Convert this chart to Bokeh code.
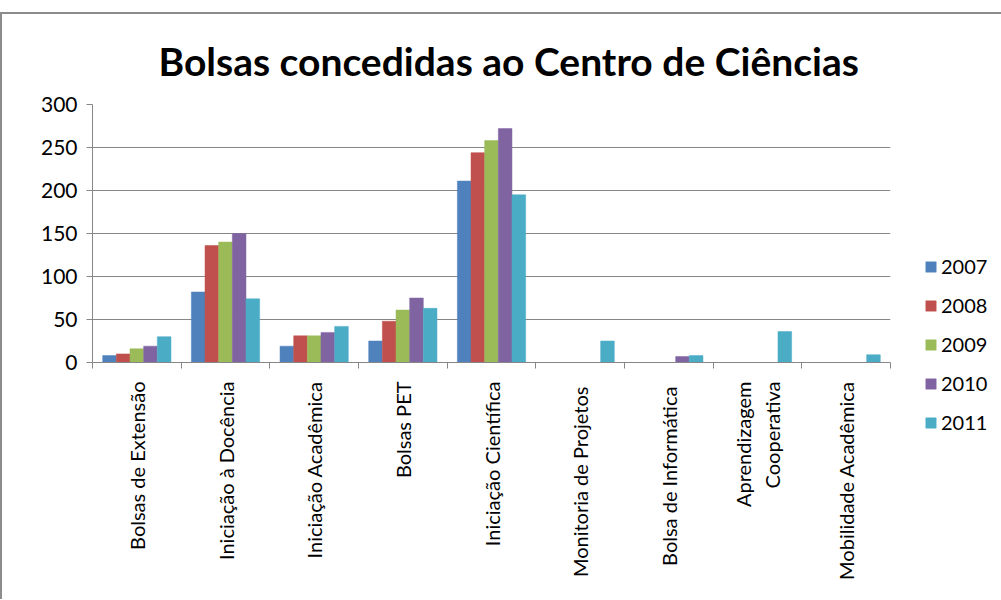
import math
from bokeh.plotting import figure
from bokeh.models import Range1d, LinearAxis, FixedTicker, Legend, LegendItem, ColumnDataSource
from bokeh.embed import file_html
from bokeh.resources import INLINE

categories = ["Bolsas de Extensão", "Iniciação à Docência", "Iniciação Acadêmica", "Bolsas PET",
              "Iniciação Científica", "Monitoria de  Projetos", "Bolsa de  Informática",
              "Aprendizagem\nCooperativa", "Mobilidade Acadêmica"]
years = ["2007", "2008", "2009", "2010", "2011"]
v2007 = [8, 82, 19, 25, 211, 0, 0, 0, 0]
v2008 = [10, 136, 31, 48, 244, 0, 0, 0, 0]
v2009 = [16, 140, 31, 61, 258, 0, 0, 0, 0]
v2010 = [19, 150, 35, 75, 272, 0, 7, 0, 0]
v2011 = [30, 74, 42, 63, 195, 25, 8, 36, 9]
colors = ["#4F81BD", "#C0504D", "#9BBB59", "#8064A2", "#4BACC6"]
y_ticks = [0, 50, 100, 150, 200, 250, 300]

series = dict(zip(years, [v2007, v2008, v2009, v2010, v2011]))
n = len(categories)
centers = [i + 0.5 for i in range(n)]
edges = list(range(n + 1))

FONT = "Lato"
p = figure(frame_width=798, frame_height=258, x_range=Range1d(0, n), y_range=Range1d(0, 300),
           output_backend="svg", toolbar_location=None,
           min_border_left=90, min_border_right=111, min_border_top=80, min_border_bottom=237,
           x_axis_location=None, title="Bolsas concedidas ao Centro de Ciências")
p.margin = (12, 0, 0, 0)
p.styles = {"border-top": "2px solid #8c8c8c", "border-left": "2px solid #8c8c8c"}

p.title.text_font = FONT
p.title.text_font_size = "39px"
p.title.text_font_style = "bold"
p.title.align = "left"
p.title.offset = 66
p.title.standoff = 42
p.title.text_color = "#000000"

p.outline_line_color = None
p.background_fill_color = "white"
p.border_fill_color = "white"

# y axis
yax = p.yaxis[0]
yax.ticker = FixedTicker(ticks=y_ticks)
yax.axis_line_color = "#868686"
yax.major_tick_line_color = "#868686"
yax.major_tick_out = 6
yax.major_tick_in = 0
yax.minor_tick_line_color = None
yax.major_label_text_font = FONT
yax.major_label_text_font_size = "21px"
yax.major_label_text_color = "#000000"
yax.major_label_standoff = 9

p.ygrid.ticker = FixedTicker(ticks=y_ticks)
p.ygrid.grid_line_color = "#868686"
p.xgrid.grid_line_color = None

# category axis: labels at centres, boundary ticks as minor ticks
cat_axis = LinearAxis(ticker=FixedTicker(ticks=centers, minor_ticks=edges),
                      major_label_overrides={c: name for c, name in zip(centers, categories)})
cat_axis.axis_line_color = "#868686"
cat_axis.major_tick_line_color = None
cat_axis.major_tick_out = 0
cat_axis.major_tick_in = 0
cat_axis.minor_tick_line_color = "#868686"
cat_axis.minor_tick_out = 6
cat_axis.minor_tick_in = 0
cat_axis.major_label_orientation = math.pi / 2
cat_axis.major_label_text_font = FONT
cat_axis.major_label_text_font_size = "20px"
cat_axis.major_label_text_color = "#000000"
cat_axis.major_label_standoff = 13
p.add_layout(cat_axis, "below")

offsets = [-0.308, -0.154, 0.0, 0.154, 0.308]
items = []
for yr, off, col in zip(years, offsets, colors):
    src = ColumnDataSource(dict(x=[c + off for c in centers], top=series[yr]))
    r = p.vbar(x="x", top="top", width=0.154, source=src,
               fill_color=col, line_color=col, line_width=0.5)
    items.append(LegendItem(label=yr, renderers=[r]))

legend = Legend(items=items, location=(34, -72))
legend.border_line_color = None
legend.background_fill_alpha = 0
legend.padding = 0
legend.margin = 0
legend.glyph_width = 13
legend.glyph_height = 13
legend.label_height = 24
legend.spacing = 15
legend.label_standoff = 4
legend.label_text_font = FONT
legend.label_text_font_size = "20px"
legend.label_text_color = "#000000"
p.add_layout(legend, "right")

open("out.html", "w").write(file_html(p, INLINE))
